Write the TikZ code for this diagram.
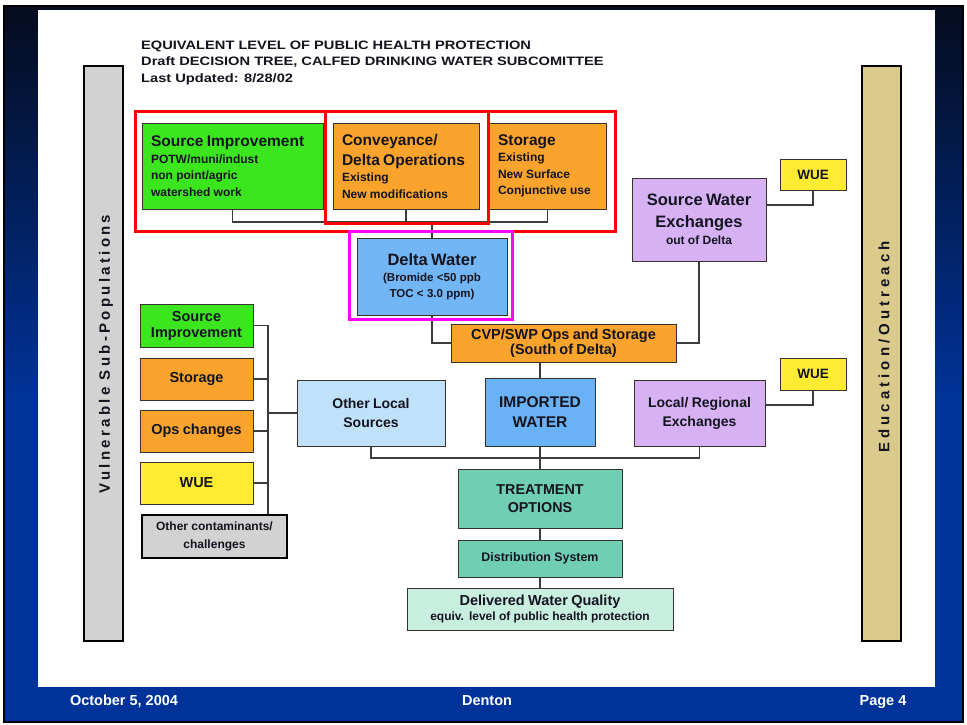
\documentclass[tikz,border=0pt]{standalone}
\usepackage{fontspec}
\setmainfont{Liberation Sans}
\newfontfamily\titlefont[FakeStretch=1.2]{Liberation Sans}
\newfontfamily\vsfont[LetterSpace=22]{Liberation Sans}
\newfontfamily\eofont[LetterSpace=27]{Liberation Sans}
\newcommand\fz[2]{\fontsize{#1}{#2}\selectfont}
\definecolor{cgreen}{RGB}{60,230,30}
\definecolor{corange}{RGB}{250,163,45}
\definecolor{cyellow}{RGB}{255,236,50}
\definecolor{cdelta}{RGB}{115,182,245}
\definecolor{cimport}{RGB}{105,178,245}
\definecolor{clocal}{RGB}{192,225,250}
\definecolor{clav}{RGB}{214,178,245}
\definecolor{cteal}{RGB}{112,206,178}
\definecolor{cmint}{RGB}{200,238,224}
\definecolor{cgray}{RGB}{210,210,210}
\definecolor{ctan}{RGB}{218,203,140}
\definecolor{slideblue}{RGB}{0,51,153}
\definecolor{slidedark}{RGB}{5,12,30}
\definecolor{cmag}{RGB}{255,0,255}
\definecolor{ink}{RGB}{20,20,30}
\definecolor{boxline}{RGB}{55,50,45}
\definecolor{connc}{RGB}{60,60,60}
\tikzset{
  box/.style={draw=boxline, line width=1pt, inner sep=0pt, font=\bfseries, text=ink},
  heavybox/.style={draw=black, line width=2.5pt, inner sep=0pt, font=\bfseries, text=ink},
  conn/.style={draw=connc, line width=1.3pt},
  redframe/.style={draw=red, line width=3pt},
  magframe/.style={draw=cmag, line width=3pt},
  foot/.style={anchor=base, font=\bfseries\fz{14.5}{16}, text=white, inner sep=0pt},
  ttl/.style={anchor=base west, inner sep=0pt, font=\titlefont\bfseries\fz{12.2}{15}, text=ink},
}
\newcommand\mkbox[7]{\node[#2,minimum width={#5-#3},minimum height={#6-#4}] (#1) at ({(#3+#5)/2},{(#4+#6)/2}) {#7};}
\begin{document}
\begin{tikzpicture}[x=1pt,y=-1pt]
\useasboundingbox (0,0) rectangle (967,725);
% slide background
\fill[white] (0,0) rectangle (967,725);
\fill[slideblue] (4,6) rectangle (963,722);
\shade[top color=slidedark, bottom color=slideblue] (4,6) rectangle (963,400);
\draw[black, line width=1.5pt] (4,6) rectangle (963,722);
\fill[white] (38,10) rectangle (935,687);

% title
\node[ttl] (t1) at (141,50) {EQUIVALENT LEVEL OF PUBLIC HEALTH PROTECTION};
\node[ttl] (t2) at (141,66) {Draft DECISION TREE, CALFED DRINKING WATER SUBCOMITTEE};
\node[ttl] (t3) at (141,83) {Last Updated: 8/28/02};

% side bars
\mkbox{vsp}{draw=black,line width=2.5pt,fill=cgray}{84}{66}{123}{641}{}
\mkbox{edu}{draw=black,line width=2.5pt,fill=ctan}{862}{66}{901}{641}{}
\node[rotate=90, font=\vsfont\bfseries\fz{15}{17}, text=ink] (vspt) at (106,354) {Vulnerable Sub-Populations};
\node[rotate=90, font=\eofont\bfseries\fz{15}{17}, text=ink] (edut) at (884,347) {Education/Outreach};

% top boxes
\mkbox{srcimp}{box,fill=cgreen,text width=163,align=left}{142}{123}{323}{209}{\fz{15.5}{20}Source Improvement\par\fz{12}{16.5}POTW/muni/indust\\non point/agric\\watershed work\par}
\mkbox{conv}{box,fill=corange,text width=128,align=left}{333}{123}{479}{209}{\fz{15.5}{20}Conveyance/\\Delta Operations\par\fz{12}{16.5}Existing\\New modifications\par}
\mkbox{stor}{box,fill=corange,text width=99,align=left}{489}{123}{606}{209}{\fz{15.5}{20}Storage\par\fz{12}{16.5}Existing\\New Surface\\Conjunctive use\par}

\mkbox{swe}{box,fill=clav,text width=130,align=center}{632}{178}{766}{261}{\fz{16.5}{22}Source Water\\Exchanges\par\fz{12}{17}out of Delta\par}
\mkbox{wueA}{box,fill=cyellow,text width=60,align=center}{780}{159}{846}{190}{\fz{13.5}{16}WUE\par}

\mkbox{delta}{box,fill=cdelta,text width=144,align=center}{357}{238}{507}{315}{\fz{16.5}{20}Delta Water\par\fz{11.5}{16}(Bromide <50 ppb\\TOC < 3.0 ppm)\par}
\mkbox{cvp}{box,fill=corange,text width=220,align=center}{451}{324}{676}{362}{\fz{14.5}{15.5}CVP/SWP Ops and Storage\\(South of Delta)\par}

% middle row
\mkbox{olocal}{box,fill=clocal,text width=140,align=center}{297}{380}{445}{446}{\fz{14}{19}Other Local\\Sources\par}
\mkbox{imp}{box,fill=cimport,text width=104,align=center}{485}{378}{595}{446}{\fz{15.5}{20}IMPORTED\\WATER\par}
\mkbox{locreg}{box,fill=clav,text width=126,align=center}{634}{380}{765}{446}{\fz{14}{19}Local/ Regional\\Exchanges\par}
\mkbox{wueB}{box,fill=cyellow,text width=60,align=center}{780}{358}{846}{390}{\fz{13.5}{16}WUE\par}

% left column
\mkbox{lsA}{box,fill=cgreen,text width=108,align=center}{140}{304}{253}{347}{\fz{14.5}{16}Source\\Improvement\par}
\mkbox{lsB}{box,fill=corange,text width=108,align=center}{140}{358}{253}{400}{\fz{14.5}{16}Storage\par}
\mkbox{lsC}{box,fill=corange,text width=108,align=center}{140}{410}{253}{452}{\fz{14.5}{16}Ops changes\par}
\mkbox{lsD}{box,fill=cyellow,text width=108,align=center}{140}{462}{253}{504}{\fz{14.5}{16}WUE\par}
\mkbox{contam}{heavybox,fill=cgray,text width=140,align=center}{142}{515}{287}{558}{\fz{12}{18}Other contaminants/\\challenges\par}

% bottom
\mkbox{treat}{box,fill=cteal,text width=158,align=center}{458}{469}{622}{528}{\fz{14.3}{18}TREATMENT\\OPTIONS\par}
\mkbox{dist}{box,fill=cteal,text width=158,align=center}{458}{540}{622}{577}{\fz{12.4}{15}Distribution System\par}
\mkbox{deliv}{box,fill=cmint,text width=260,align=center}{407}{588}{673}{630}{\fz{14.5}{16}Delivered Water Quality\par\fz{12}{15}equiv. level of public health protection\par}

% connectors
\coordinate (topbus) at (0,222);
\coordinate (botbus) at (0,458);
\coordinate (ltree) at (268,0);
\draw[conn] (srcimp.south) -- (srcimp.south |- topbus) -- (stor.south |- topbus) -- (stor.south);
\draw[conn] (conv.south) -- (conv.south |- topbus);
\draw[conn] (delta.north) -- (delta.north |- topbus);
\draw[conn] (delta.south) |- (cvp.west);
\draw[conn] (swe.south) |- (cvp.east);
\draw[conn] (wueA.south) |- ([yshift=14.5pt]swe.east);
\draw[conn] (wueB.south) |- ([yshift=8pt]locreg.east);
\draw[conn] (imp.north) -- (imp.north |- cvp.south);
\draw[conn] (olocal.south) -- (olocal.south |- botbus) -- (locreg.south |- botbus) -- (locreg.south);
\draw[conn] (imp.south) -- (treat.north);
\draw[conn] (treat.south) -- (dist.north);
\draw[conn] (dist.south) -- (deliv.north);
\draw[conn] (lsA.east) -- (lsA.east -| ltree) -- (ltree |- contam.north);
\draw[conn] (lsB.east) -- (lsB.east -| ltree);
\draw[conn] (lsC.east) -- (lsC.east -| ltree);
\draw[conn] (lsD.east) -- (lsD.east -| ltree);
\draw[conn] (olocal.west -| ltree) -- (olocal.west);

% highlight frames
\draw[redframe] (135,111) rectangle (615,231);
\draw[redframe] (325,111) rectangle (488,223);
\draw[magframe] (349,231) rectangle (512,319);

% footer
\node[foot] (f1) at (124,705) {October 5, 2004};
\node[foot] (f2) at (487,705) {Denton};
\node[foot] (f3) at (883,705) {Page 4};
\end{tikzpicture}
\end{document}
